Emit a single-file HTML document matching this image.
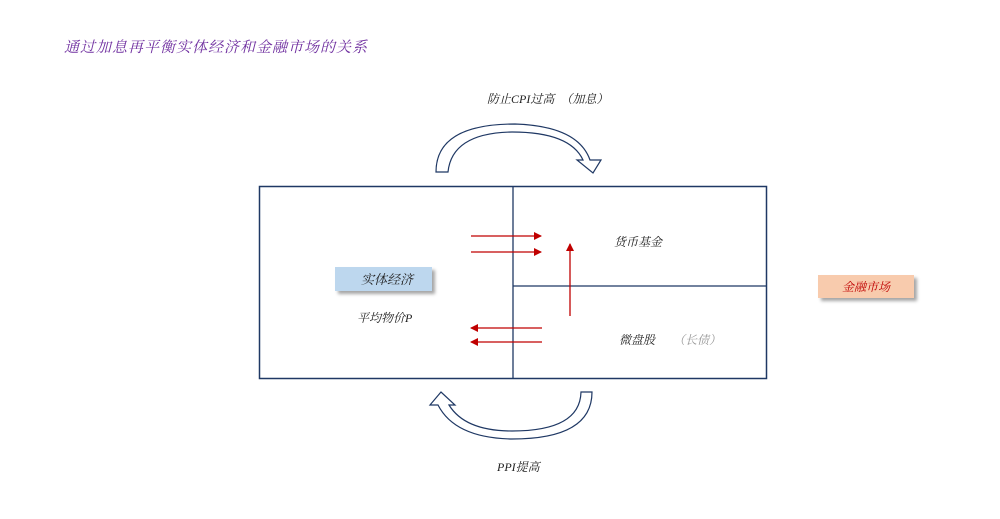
<!DOCTYPE html>
<html><head><meta charset="utf-8"><style>
html,body{margin:0;padding:0;background:#fff;width:1000px;height:519px;overflow:hidden}
svg text{font-family:"Liberation Serif","Noto Serif CJK SC",serif;font-style:italic}
</style></head><body>
<svg width="1000" height="519" viewBox="0 0 1000 519" xmlns="http://www.w3.org/2000/svg">
<defs>
<marker id="ah" markerWidth="8" markerHeight="8" refX="7" refY="4" orient="auto" markerUnits="userSpaceOnUse">
<path d="M0,0 L8,4 L0,8 Z" fill="#c00000"/></marker>
<filter id="sh" x="-10%" y="-20%" width="130%" height="160%"><feDropShadow dx="3" dy="3" stdDeviation="1.5" flood-color="#000" flood-opacity="0.35"/></filter>
</defs>
<text x="64" y="52" font-size="15" fill="#7030a0" letter-spacing="1">通过加息再平衡实体经济和金融市场的关系</text>
<text x="487" y="103" font-size="12" fill="#222">防止CPI过高　（加息）</text>
<!-- top curved arrow -->
<path d="M436,172 Q436,124 515,124 Q578,126 590,160 L601,160 L593,173 L577,160 L583,160 Q570,132 512,132 Q452,133 448,172 Z" fill="#fff" stroke="#1f3864" stroke-width="1.2"/>
<!-- bottom curved arrow -->
<path d="M592,392 Q592,439 512,439 Q455,438 438,405 L430,405 L441,392 L455,405 L449,405 Q465,431 512,431 Q580,431 581,392 Z" fill="#fff" stroke="#1f3864" stroke-width="1.2"/>
<text x="497" y="471" font-size="12" fill="#222">PPI提高</text>
<!-- box -->
<rect x="259.5" y="186.5" width="507" height="192" fill="none" stroke="#1f3864" stroke-width="1.5"/>
<line x1="513" y1="186" x2="513" y2="379" stroke="#1f3864" stroke-width="1.3"/>
<line x1="513" y1="286" x2="767" y2="286" stroke="#1f3864" stroke-width="1.3"/>
<!-- red arrows -->
<line x1="471" y1="236" x2="541" y2="236" stroke="#c00000" stroke-width="1.3" marker-end="url(#ah)"/>
<line x1="471" y1="252" x2="541" y2="252" stroke="#c00000" stroke-width="1.3" marker-end="url(#ah)"/>
<line x1="542" y1="328" x2="471" y2="328" stroke="#c00000" stroke-width="1.3" marker-end="url(#ah)"/>
<line x1="542" y1="342" x2="471" y2="342" stroke="#c00000" stroke-width="1.3" marker-end="url(#ah)"/>
<line x1="570" y1="316" x2="570" y2="244" stroke="#c00000" stroke-width="1.3" marker-end="url(#ah)"/>
<!-- labels -->
<rect x="335" y="267" width="97" height="24" fill="#bdd7ee" filter="url(#sh)"/>
<text x="361" y="284" font-size="13" fill="#222">实体经济</text>
<text x="357" y="322" font-size="12" fill="#222">平均物价P</text>
<text x="614" y="246" font-size="12" fill="#222">货币基金</text>
<text x="619" y="344" font-size="12" fill="#222">微盘股</text>
<text x="673" y="344" font-size="12" fill="#999">（长债）</text>
<rect x="818" y="275" width="96" height="23" fill="#f8cbad" filter="url(#sh)"/>
<text x="842" y="291" font-size="12" fill="#c00000">金融市场</text>
</svg>
</body></html>
